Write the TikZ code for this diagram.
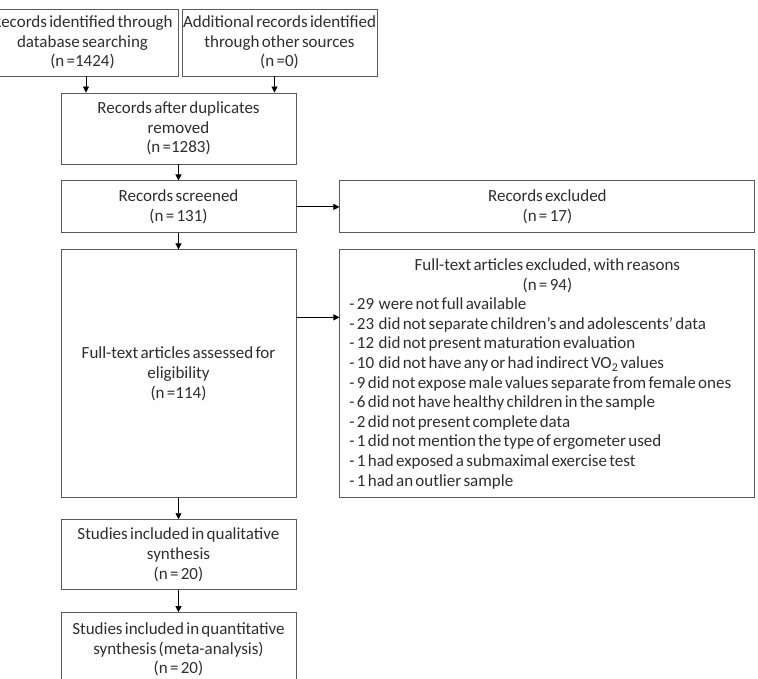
\documentclass[tikz,border=0pt]{standalone}
\usepackage{fontspec}
\setmainfont{Carlito}[WordSpace=0.6]
\usetikzlibrary{arrows.meta, positioning}
\definecolor{cline}{HTML}{5a5a5a}
\definecolor{ctext}{HTML}{2e2e2e}
\newcommand{\rtitle}[1]{\makebox[396pt]{#1}}

\begin{document}
\begin{tikzpicture}[
  font=\fontsize{17}{19.6}\selectfont,
  >={Triangle[length=6pt, width=6pt]},
  node distance=16pt and 43pt,
  box/.style={draw=cline, line width=0.9pt, align=center, text=ctext, inner sep=1pt,
              minimum width=235pt},
  arr/.style={->, line width=0.9pt, draw=black},
  ]
\useasboundingbox (0,0) rectangle (758pt,-679pt);
\clip (0,0) rectangle (758pt,-679pt);

\node[box, minimum width=191pt, minimum height=67pt] (db) at (82.5pt,-42.5pt)
  {Records identified through\\database searching\\(n =1424)};
\node[box, minimum width=193pt, minimum height=67pt] (other) at (279.5pt,-42.5pt)
  {Additional records identified\\through other sources\\(n =0)};

\node[box, minimum height=71pt] (dup) at (178.5pt,-128.5pt)
  {Records after duplicates\\removed\\(n =1283)};
\node[box, minimum height=52pt, below=of dup] (screen) {Records screened\\(n = 131)};
\node[box, minimum height=248pt, below=of screen] (full)
  {Full-text articles assessed for\\eligibility\\(n =114)};
\node[box, minimum height=70pt, below=21pt of full] (qual)
  {Studies included in qualitative\\synthesis\\(n = 20)};
\node[box, minimum height=74pt, below=22pt of qual] (quant)
  {Studies included in quantitative\\synthesis (meta-analysis)\\(n = 20)};

\node[box, minimum width=415pt, minimum height=52pt, right=of screen] (excl)
  {Records excluded\\(n = 17)};
\node[box, minimum width=415pt, minimum height=248pt, right=of full, align=left,
      text width=396pt, inner xsep=9.5pt] (reasons)
  {\spaceskip=\fontdimen2\font\relax
   \rtitle{Full-text articles excluded, with reasons}\\
   \rtitle{(n = 94)}\\
   - 29 \ were not full available\\
   - 23 \ did not separate children's and adolescents' data\\
   - 12 \ did not present maturation evaluation\\
   - 10 \ did not have any or had indirect VO\textsubscript{2} values\\
   - 9 did not expose male values separate from female ones\\
   - 6 did not have healthy children in the sample\\
   - 2 did not present complete data\\
   - 1 did not mention the type of ergometer used\\
   - 1 had exposed a submaximal exercise test\\
   - 1 had an outlier sample};

\draw[arr] ([xshift=3.5pt]db.south) -- ([xshift=3.5pt]db.south |- dup.north);
\draw[arr] ([xshift=-5pt]other.south) -- ([xshift=-5pt]other.south |- dup.north);
\draw[arr] (dup) -- (screen);
\draw[arr] (screen) -- (excl);
\draw[arr] (screen) -- (full);
\draw[arr] ([yshift=-68pt]full.north east) -- ([yshift=-68pt]full.north east -| reasons.west);
\draw[arr] (full) -- (qual);
\draw[arr] (qual) -- (quant);
\end{tikzpicture}
\end{document}
